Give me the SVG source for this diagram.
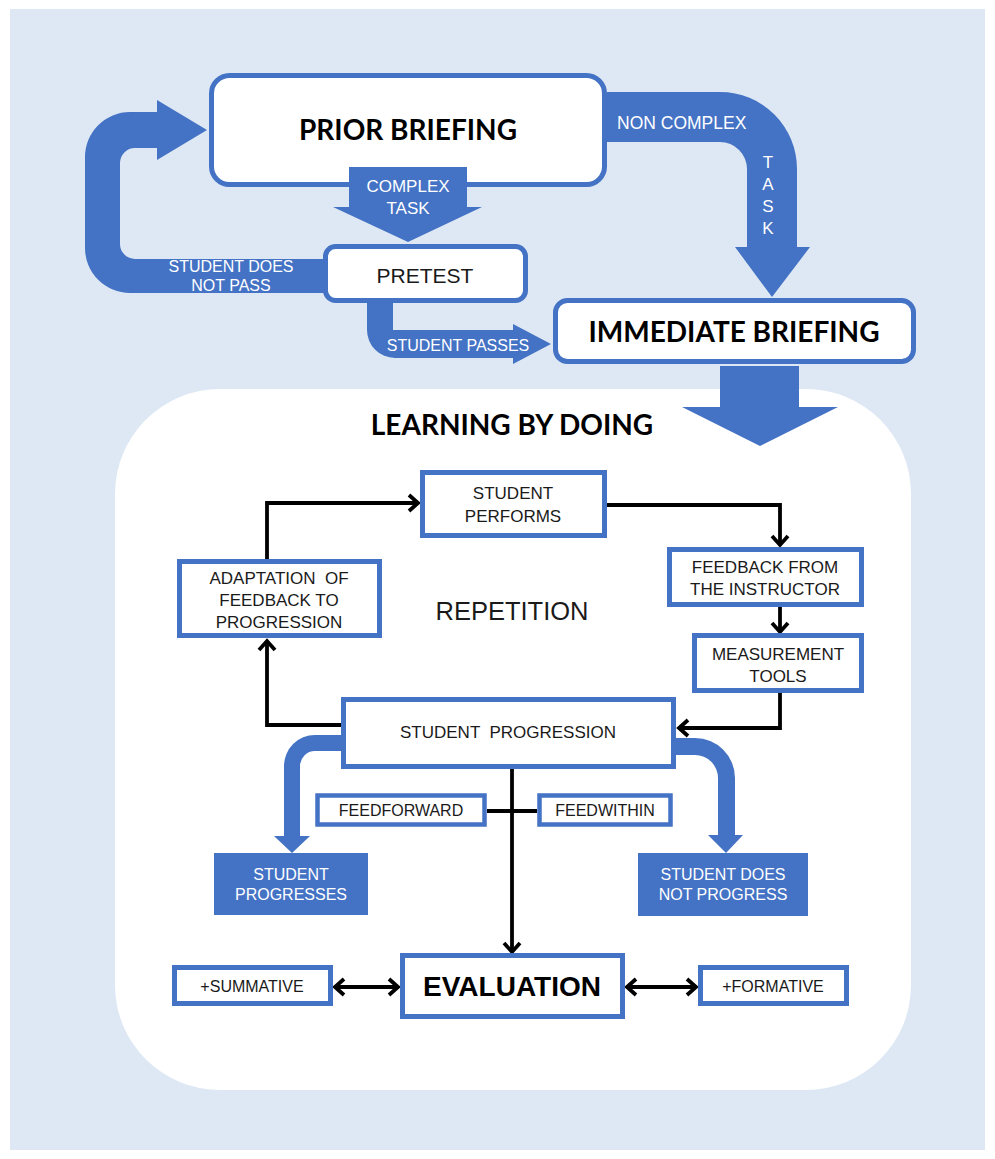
<svg xmlns="http://www.w3.org/2000/svg" width="995" height="1159" viewBox="0 0 995 1159">
<style>
.bg{fill:#DEE8F4}
.blue{fill:#4472C4}
.tbox{fill:#fff;stroke:#4472C4;stroke-width:5}
.ibox{fill:#fff;stroke:#4472C4;stroke-width:5}
.big{font-family:Lato,"Liberation Sans",sans-serif;font-weight:bold;fill:#000;text-anchor:middle}
.lbl{font-family:"Liberation Sans",Arial,sans-serif;fill:#1a1a1a;text-anchor:middle;font-size:17px}
.wl{font-family:"Liberation Sans",Arial,sans-serif;fill:#fff;text-anchor:middle}
.con{fill:none;stroke:#000;stroke-width:3.8}
</style>
<defs>
<marker id="ah" markerUnits="userSpaceOnUse" markerWidth="16" markerHeight="20" viewBox="0 0 16 20" refX="12" refY="10" orient="auto-start-reverse">
<path d="M3 2 L12 10 L3 18" fill="none" stroke="#000" stroke-width="3.8"/>
</marker>
</defs>
<rect x="0" y="0" width="995" height="1159" fill="#fff"/>
<rect class="bg" x="10" y="9" width="975" height="1141"/>
<rect id="panel" x="115" y="389" width="796" height="701" rx="105" fill="#fff"/>

<g id="top-arrows">
<path id="loop-arrow" class="blue" d="M325 293 L130 293 A45 45 0 0 1 85 248 L85 157 A45 45 0 0 1 130 112 L157 112 L157 100 L207 130 L157 160 L157 148 L135 148 A15 15 0 0 0 120 163 L120 244 A15 15 0 0 0 135 259 L325 259 Z"/>
<path id="pass-arrow" class="blue" d="M367 290 L393 290 L393 330 L513 330 L513 324 L551 344 L513 364 L513 358 L395 358 A28 28 0 0 1 367 330 Z"/>
<path id="noncomplex-arrow" class="blue" d="M607 92 L720 92 A77 77 0 0 1 797 169 L797 247 L810 247 L772 297 L735 247 L747 247 L747 169 A27 27 0 0 0 720 142 L607 142 Z"/>
</g>

<g id="prior-briefing">
<rect class="tbox" x="211.5" y="75.5" width="393" height="109" rx="18"/>
<text class="big" x="408" y="140" font-size="28">PRIOR BRIEFING</text>
</g>
<g id="complex-arrow">
<path class="blue" d="M349 167 L467 167 L467 207 L482 207 L408 242 L333 207 L349 207 Z"/>
<text class="wl" x="408" y="192" font-size="17">COMPLEX</text>
<text class="wl" x="408" y="214" font-size="17">TASK</text>
</g>
<g id="pretest">
<rect class="tbox" x="325.5" y="246.5" width="200" height="54" rx="10"/>
<text class="lbl" x="425" y="283" style="font-size:21px">PRETEST</text>
</g>
<g id="immediate-briefing">
<rect class="tbox" x="555.5" y="300.5" width="358" height="61" rx="12"/>
<text class="big" x="734" y="342" font-size="28">IMMEDIATE BRIEFING</text>
</g>

<g id="top-labels">
<text class="wl" x="231" y="272" font-size="16">STUDENT DOES</text>
<text class="wl" x="231" y="291" font-size="16">NOT PASS</text>
<text class="wl" x="458" y="351" font-size="16">STUDENT PASSES</text>
<text class="wl" x="617" y="129" font-size="17.5" style="text-anchor:start">NON COMPLEX</text>
<text class="wl" x="768" y="168" font-size="17">T</text>
<text class="wl" x="768" y="190" font-size="17">A</text>
<text class="wl" x="768" y="212" font-size="17">S</text>
<text class="wl" x="768" y="234" font-size="17">K</text>
</g>

<path id="big-arrow" class="blue" d="M720 366 L799 366 L799 407 L838 407 L760 446 L682 407 L720 407 Z"/>

<text id="ldoing" class="big" x="512" y="435" font-size="28">LEARNING BY DOING</text>
<text id="repetition" class="lbl" x="512" y="620" style="font-size:25.5px">REPETITION</text>

<g id="connectors">
<path class="con" d="M267 559 L267 503 L418 503" marker-end="url(#ah)"/>
<path class="con" d="M607 505 L780 505 L780 545" marker-end="url(#ah)"/>
<path class="con" d="M780 607 L780 632" marker-end="url(#ah)"/>
<path class="con" d="M780 693 L780 728 L679 728" marker-end="url(#ah)"/>
<path class="con" d="M341 725 L267 725 L267 641" marker-end="url(#ah)"/>
<path class="con" d="M512 769 L512 952" marker-end="url(#ah)"/>
<path class="con" d="M487 811 L537 811"/>
<path class="con" d="M335 987 L398 987" marker-start="url(#ah)" marker-end="url(#ah)"/>
<path class="con" d="M627 987 L696 987" marker-start="url(#ah)" marker-end="url(#ah)"/>
<path id="progress-arrow" class="blue" d="M343 735 L315 735 A31 31 0 0 0 284 766 L284 836 L274 836 L292 853 L310 836 L300 836 L300 766 A15 15 0 0 1 315 751 L343 751 Z"/>
<path id="noprogress-arrow" class="blue" d="M674 738 L695 738 A40 40 0 0 1 735 778 L735 835 L743 835 L726 853 L708 835 L718 835 L718 778 A23 23 0 0 0 695 755 L674 755 Z"/>
</g>

<g id="student-performs">
<rect class="ibox" x="422.5" y="472.5" width="182" height="63"/>
<text class="lbl" x="513" y="499">STUDENT</text>
<text class="lbl" x="513" y="522">PERFORMS</text>
</g>
<g id="feedback-instructor">
<rect class="ibox" x="669.5" y="549.5" width="192" height="55"/>
<text class="lbl" x="765" y="573">FEEDBACK FROM</text>
<text class="lbl" x="765" y="595">THE INSTRUCTOR</text>
</g>
<g id="measurement-tools">
<rect class="ibox" x="694.5" y="635.5" width="167" height="55"/>
<text class="lbl" x="778" y="660">MEASUREMENT</text>
<text class="lbl" x="778" y="682">TOOLS</text>
</g>
<g id="adaptation">
<rect class="ibox" x="179.5" y="561.5" width="200" height="74"/>
<text class="lbl" x="279" y="584" style="white-space:pre">ADAPTATION  OF</text>
<text class="lbl" x="279" y="606">FEEDBACK TO</text>
<text class="lbl" x="279" y="628">PROGRESSION</text>
</g>
<g id="student-progression">
<rect class="ibox" x="343.5" y="699.5" width="330" height="67"/>
<text class="lbl" x="508" y="738" style="white-space:pre">STUDENT  PROGRESSION</text>
</g>
<g id="feedforward">
<rect class="ibox" x="317.5" y="795.5" width="167" height="29" style="stroke-width:4.5"/>
<text class="lbl" x="401" y="816" style="font-size:16px">FEEDFORWARD</text>
</g>
<g id="feedwithin">
<rect class="ibox" x="539.5" y="795.5" width="131" height="29" style="stroke-width:4.5"/>
<text class="lbl" x="605" y="816" style="font-size:16px">FEEDWITHIN</text>
</g>
<g id="student-progresses">
<rect class="blue" x="214" y="853" width="154" height="62"/>
<text class="wl" x="291" y="880" font-size="16">STUDENT</text>
<text class="wl" x="291" y="900" font-size="16">PROGRESSES</text>
</g>
<g id="student-not-progress">
<rect class="blue" x="638" y="853" width="170" height="63"/>
<text class="wl" x="723" y="880" font-size="16">STUDENT DOES</text>
<text class="wl" x="723" y="900" font-size="16">NOT PROGRESS</text>
</g>
<g id="evaluation">
<rect class="ibox" x="402.5" y="955.5" width="220" height="61"/>
<text class="big" x="512" y="996" font-size="28" style="font-family:'Liberation Sans',Arial,sans-serif">EVALUATION</text>
</g>
<g id="summative">
<rect class="ibox" x="174.5" y="967.5" width="156" height="36"/>
<text class="lbl" x="252" y="992" style="font-size:16px">+SUMMATIVE</text>
</g>
<g id="formative">
<rect class="ibox" x="700.5" y="967.5" width="146" height="36"/>
<text class="lbl" x="773" y="992" style="font-size:16px">+FORMATIVE</text>
</g>
</svg>
